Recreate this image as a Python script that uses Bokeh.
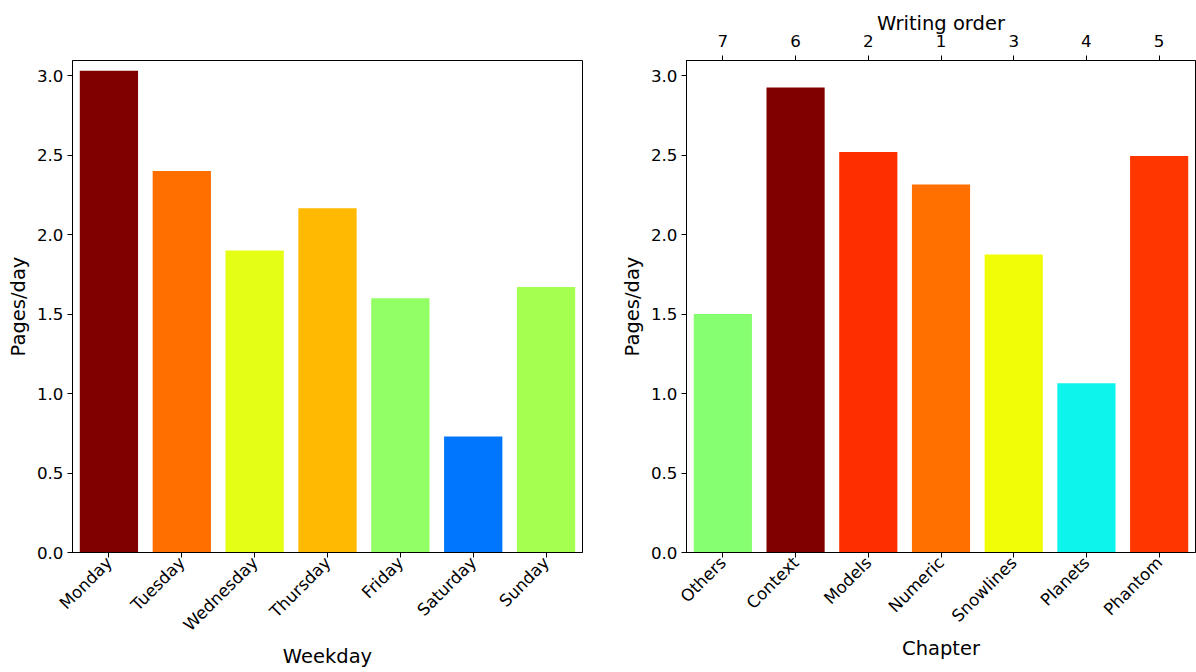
import numpy as np
from bokeh.plotting import figure
from bokeh.layouts import row
from bokeh.models import (ColumnDataSource, CategoricalAxis, FixedTicker, NumeralTickFormatter,
                          FactorRange)
from bokeh.embed import file_html
from bokeh.resources import INLINE

weekdays = ["Monday", "Tuesday", "Wednesday", "Thursday", "Friday", "Saturday", "Sunday"]
weekday_pages = [3.03, 2.40, 1.90, 2.165, 1.60, 0.73, 1.67]

chapters = ["Others", "Context", "Models", "Numeric", "Snowlines", "Planets", "Phantom"]
chapter_pages = [1.50, 2.925, 2.52, 2.315, 1.875, 1.065, 2.495]
writing_order = ["7", "6", "2", "1", "3", "4", "5"]

Y_MAX = 3.095
FONT = "DejaVu Sans"
TICK_FS = "16.7px"
LABEL_FS = "19.5px"

# matplotlib 'jet' colormap segments
_JET = {
    "r": [(0, 0), (0.35, 0), (0.66, 1), (0.89, 1), (1, 0.5)],
    "g": [(0, 0), (0.125, 0), (0.375, 1), (0.64, 1), (0.91, 0), (1, 0)],
    "b": [(0, 0.5), (0.11, 1), (0.34, 1), (0.65, 0), (1, 0)],
}


def jet(t):
    out = []
    for ch in "rgb":
        xs, ys = zip(*_JET[ch])
        out.append(int(round(float(np.interp(t, xs, ys)) * 255)))
    return "#%02x%02x%02x" % tuple(out)


def colors_for(vals):
    m = max(vals)
    return [jet(v / m) for v in vals]


def style_axis(ax):
    ax.major_label_text_font = FONT
    ax.major_label_text_font_size = TICK_FS
    ax.major_label_text_color = "black"
    ax.axis_label_text_font = FONT
    ax.axis_label_text_font_size = LABEL_FS
    ax.axis_label_text_font_style = "normal"
    ax.axis_label_text_color = "black"
    ax.axis_line_color = "black"
    ax.major_tick_line_color = "black"
    ax.major_tick_in = 0
    ax.major_tick_out = 5
    ax.minor_tick_line_color = None
    ax.major_label_standoff = 4
    ax.axis_label_standoff = 4


def style(p, xlabel, xlabel_standoff):
    p.xgrid.visible = False
    p.ygrid.visible = False
    p.outline_line_color = "black"
    p.outline_line_width = 1
    p.outline_line_alpha = 1
    p.background_fill_color = "white"
    p.border_fill_color = "white"
    p.y_range.start = 0
    p.y_range.end = Y_MAX
    p.yaxis.ticker = FixedTicker(ticks=[0, 0.5, 1.0, 1.5, 2.0, 2.5, 3.0])
    p.yaxis.formatter = NumeralTickFormatter(format="0.0")
    for ax in p.below + p.left + p.above:
        style_axis(ax)
    p.left[0].axis_label = "Pages/day"
    b = p.below[0]
    b.axis_label = xlabel
    b.major_label_orientation = np.pi / 4
    b.major_label_standoff = 2
    b.axis_label_standoff = xlabel_standoff
    p.x_range.range_padding = 0


# Left panel
src1 = ColumnDataSource(dict(x=weekdays, y=weekday_pages, c=colors_for(weekday_pages)))
p1 = figure(x_range=weekdays, frame_width=510, frame_height=492,
            min_border_left=72, min_border_right=35, min_border_top=60, min_border_bottom=120,
            output_backend="svg", toolbar_location=None)
p1.vbar(x="x", top="y", width=0.8, source=src1, color="c", line_color=None)
style(p1, "Weekday", 0)

# Right panel
src2 = ColumnDataSource(dict(x=chapters, y=chapter_pages, c=colors_for(chapter_pages)))
p2 = figure(x_range=chapters, frame_width=509, frame_height=492,
            min_border_left=68, min_border_right=1, min_border_top=60, min_border_bottom=120,
            output_backend="svg", toolbar_location=None)
p2.vbar(x="x", top="y", width=0.8, source=src2, color="c", line_color=None)
p2.extra_x_ranges = {"order": FactorRange(factors=writing_order, range_padding=0)}
top = CategoricalAxis(x_range_name="order", axis_label="Writing order")
p2.add_layout(top, "above")
style(p2, "Chapter", 1)
top.major_label_orientation = "horizontal"
top.major_label_standoff = 9
top.axis_label_standoff = -3

layout = row(p1, p2, spacing=0)
open("out.html", "w").write(file_html(layout, INLINE))
